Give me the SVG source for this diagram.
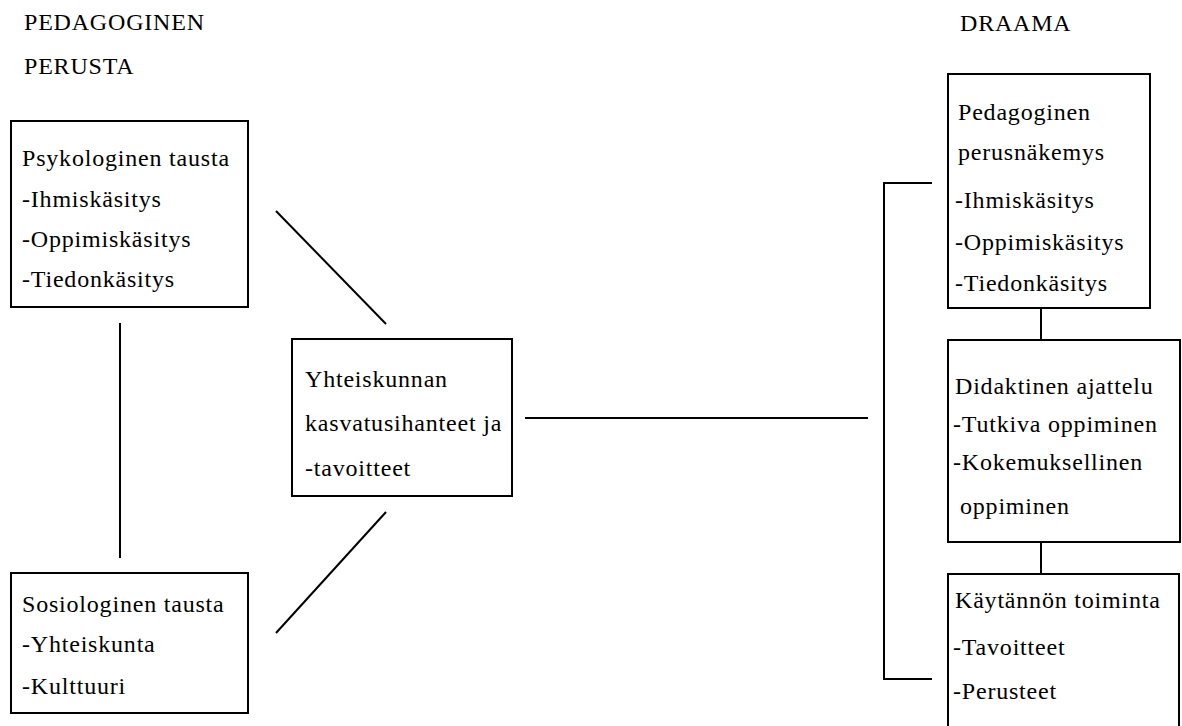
<svg xmlns="http://www.w3.org/2000/svg" width="1182" height="726" viewBox="0 0 1182 726">
<style>
text{font-family:"Liberation Serif","Times New Roman",serif;font-size:24px;fill:#000;letter-spacing:0.8px}
.box{fill:none;stroke:#000;stroke-width:2}
.ln{fill:none;stroke:#000;stroke-width:2}
</style>
<rect width="1182" height="726" fill="#fff"/>
<g id="title-left">
<text x="24" y="30">PEDAGOGINEN</text>
<text x="24" y="74">PERUSTA</text>
</g>
<g id="title-right">
<text x="960" y="31">DRAAMA</text>
</g>
<g id="connectors">
<line class="ln" x1="120" y1="323" x2="120" y2="558"/>
<line class="ln" x1="276" y1="211" x2="386" y2="324"/>
<line class="ln" x1="386" y1="512" x2="276" y2="633"/>
<line class="ln" x1="525" y1="418" x2="868" y2="418"/>
<polyline class="ln" points="932,183 884,183 884,679 932,679"/>
<line class="ln" x1="1041" y1="309" x2="1041" y2="340"/>
<line class="ln" x1="1041" y1="542" x2="1041" y2="574"/>
</g>
<g id="psykologinen">
<rect class="box" x="11" y="121" width="237" height="186"/>
<text x="22" y="166">Psykologinen tausta</text>
<text x="22" y="207">-Ihmiskäsitys</text>
<text x="22" y="247">-Oppimiskäsitys</text>
<text x="22" y="287">-Tiedonkäsitys</text>
</g>
<g id="sosiologinen">
<rect class="box" x="11" y="573" width="237" height="140"/>
<text x="22" y="612">Sosiologinen tausta</text>
<text x="22" y="652">-Yhteiskunta</text>
<text x="22" y="694">-Kulttuuri</text>
</g>
<g id="yhteiskunnan">
<rect class="box" x="292" y="339" width="220" height="157"/>
<text x="305" y="387">Yhteiskunnan</text>
<text x="305" y="431">kasvatusihanteet ja</text>
<text x="305" y="476">-tavoitteet</text>
</g>
<g id="pedagoginen">
<rect class="box" x="948" y="74" width="202" height="234"/>
<text x="958" y="120">Pedagoginen</text>
<text x="958" y="160">perusnäkemys</text>
<text x="955" y="208">-Ihmiskäsitys</text>
<text x="955" y="250">-Oppimiskäsitys</text>
<text x="955" y="291">-Tiedonkäsitys</text>
</g>
<g id="didaktinen">
<rect class="box" x="948" y="340" width="232" height="202"/>
<text x="955" y="394">Didaktinen ajattelu</text>
<text x="953" y="432">-Tutkiva oppiminen</text>
<text x="953" y="470">-Kokemuksellinen</text>
<text x="960" y="514">oppiminen</text>
</g>
<g id="kaytannon">
<path class="box" d="M948,727 V574 H1179 V727"/>
<text x="955" y="608">Käytännön toiminta</text>
<text x="953" y="655">-Tavoitteet</text>
<text x="953" y="699">-Perusteet</text>
</g>
</svg>
